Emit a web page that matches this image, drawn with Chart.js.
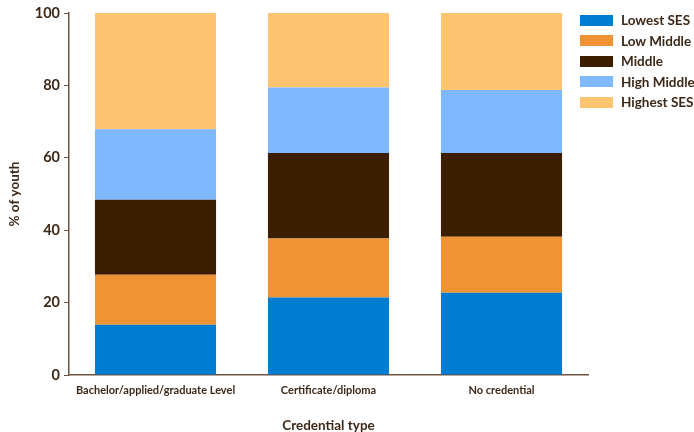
<!DOCTYPE html>
<html>
<head>
<meta charset="utf-8">
<script src="https://cdn.jsdelivr.net/npm/chart.js@4.4.0/dist/chart.umd.min.js"></script>
<style>
  html, body { margin: 0; padding: 0; background: #fff; }
  #wrap { position: relative; width: 694px; height: 432px; }
  #legend { position: absolute; left: 580px; top: 10px; font: bold 13.5px Lato, sans-serif; color: #3d2817; }
  #legend div { height: 20.5px; display: flex; align-items: center; white-space: nowrap; }
  #legend span { display: inline-block; width: 33px; height: 11px; margin-right: 8px; }
</style>
</head>
<body>
<div id="wrap">
  <canvas id="chart" width="694" height="432"></canvas>
  <div id="legend"></div>
</div>
<script>
// credential types on the x axis
const categories = ['Bachelor/applied/graduate Level', 'Certificate/diploma', 'No credential'];

// % of youth in each SES group
const lowestSES = [13.9, 21.4, 22.7];
const lowMiddle = [13.8, 16.3, 15.5];
const middle = [20.7, 23.6, 23.1];
const highMiddle = [19.5, 18.1, 17.4];
const highestSES = [32.1, 20.6, 21.3];

const seriesNames = ['Lowest SES', 'Low Middle', 'Middle', 'High Middle', 'Highest SES'];
const seriesColors = ['#007dd0', '#ef9334', '#3b1f00', '#80b8ff', '#fdc571'];
const yTicks = [0, 20, 40, 60, 80, 100];

const textColor = '#3d2817';
const axisColor = '#6b5340';

const allSeries = [lowestSES, lowMiddle, middle, highMiddle, highestSES];
const datasets = allSeries.map((vals, i) => ({
  label: seriesNames[i],
  data: vals,
  backgroundColor: seriesColors[i],
  borderWidth: 0,
  categoryPercentage: 0.7,
  barPercentage: 1.0,
}));

// html legend built from the same arrays
const legendEl = document.getElementById('legend');
seriesNames.forEach((name, i) => {
  const row = document.createElement('div');
  row.innerHTML = '<span style="background:' + seriesColors[i] + '"></span>' + name;
  legendEl.appendChild(row);
});

const ctx = document.getElementById('chart').getContext('2d');
new Chart(ctx, {
  type: 'bar',
  data: { labels: categories, datasets: datasets },
  options: {
    responsive: false,
    animation: false,
    layout: { padding: { top: 13, right: 106, left: 0, bottom: 0 } },
    plugins: { legend: { display: false }, tooltip: { enabled: false } },
    scales: {
      x: {
        stacked: true,
        grid: { display: false, drawTicks: false },
        border: { color: axisColor, width: 1.5 },
        ticks: { color: textColor, font: { family: 'Lato', size: 11, weight: 'bold' }, padding: 9, maxRotation: 0 },
        title: { display: true, text: 'Credential type', color: textColor, font: { family: 'Lato', size: 13.5, weight: 'bold' }, padding: { top: 0, bottom: -2 } },
        afterFit: (s) => { s.height = 57; },
      },
      y: {
        stacked: true,
        min: 0,
        max: 100,
        afterBuildTicks: (s) => { s.ticks = yTicks.map(v => ({ value: v })); },
        grid: { drawOnChartArea: false, drawTicks: true, tickLength: 5, color: axisColor },
        border: { color: axisColor, width: 1.5 },
        ticks: { color: textColor, font: { family: 'Lato', size: 14.5, weight: 'bold' }, padding: 4 },
        title: { display: true, text: '% of youth', color: textColor, font: { family: 'Lato', size: 13.5, weight: 'bold' }, padding: { top: 7, bottom: 0 } },
        afterFit: (s) => { s.width = 69; },
      },
    },
  },
});
</script>
</body>
</html>
